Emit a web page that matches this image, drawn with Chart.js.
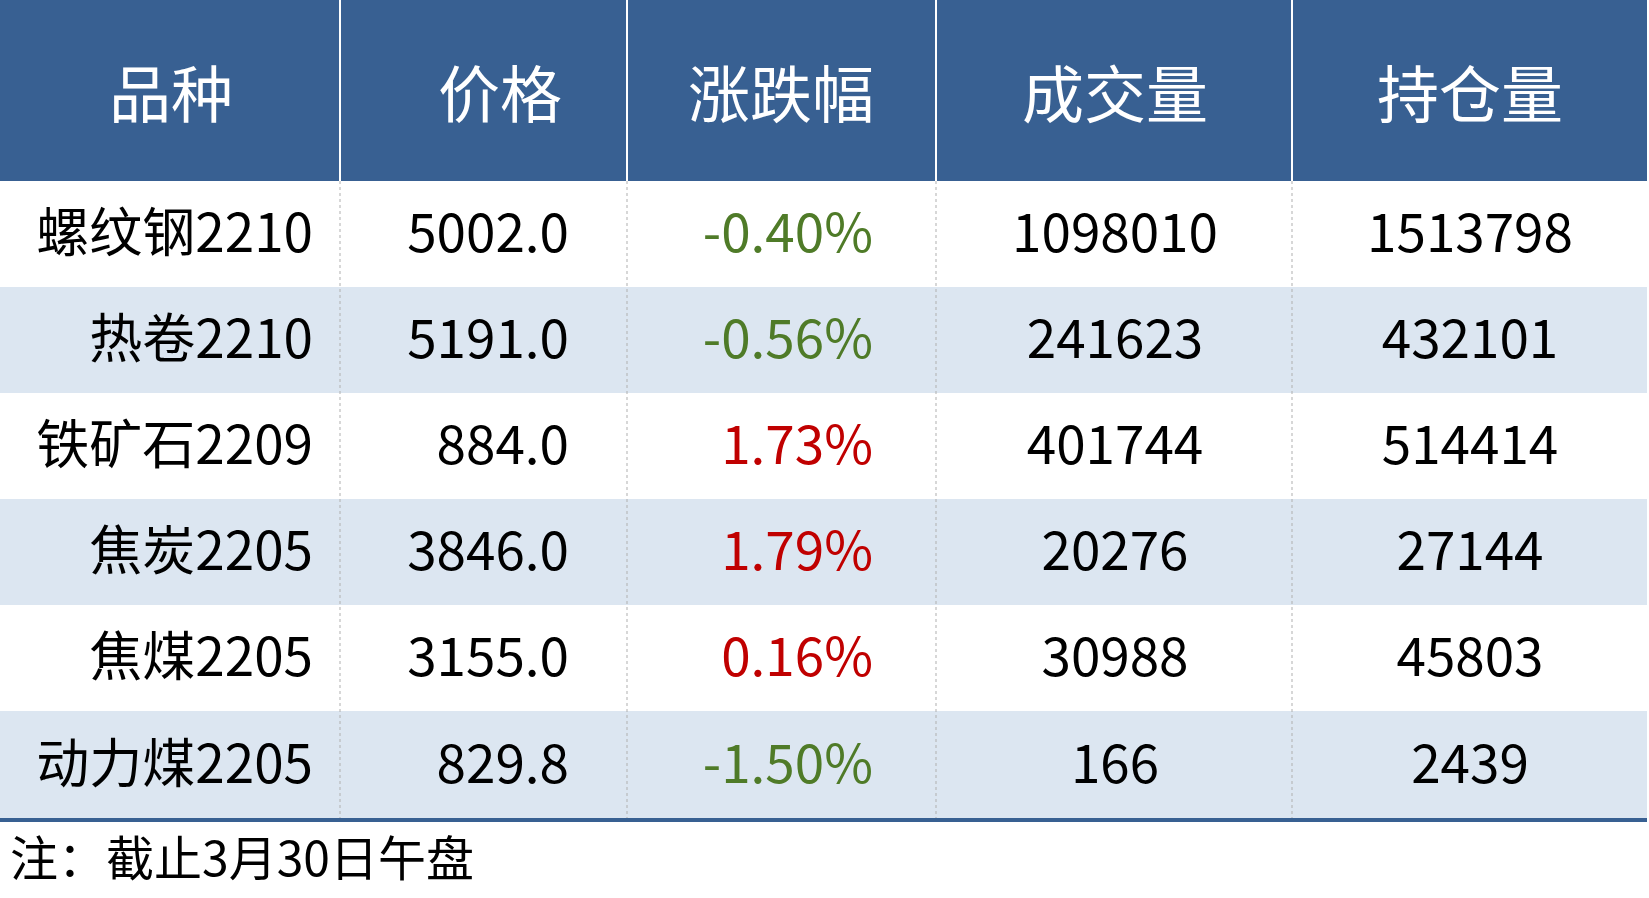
<!DOCTYPE html>
<html>
<head>
<meta charset="utf-8">
<script src="https://cdn.jsdelivr.net/npm/chart.js@4/dist/chart.umd.min.js"></script>
<style>
  body { margin: 0; background: #fff; font-family: "Noto Sans CJK SC", sans-serif; }
  #wrap { position: relative; width: 1649px; height: 826px; }
  #note { position: absolute; left: 10px; top: 824px; font-size: 48px; line-height: 62px; color: #000; }
</style>
</head>
<body>
<div id="wrap"><canvas id="tbl"></canvas></div>
<div id="note">注：截止3月30日午盘</div>
<script>
// 表头与数据
const headers = ['品种', '价格', '涨跌幅', '成交量', '持仓量'];
const varieties = ['螺纹钢2210', '热卷2210', '铁矿石2209', '焦炭2205', '焦煤2205', '动力煤2205'];
const prices = ['5002.0', '5191.0', '884.0', '3846.0', '3155.0', '829.8'];
const changes = [-0.40, -0.56, 1.73, 1.79, 0.16, -1.50];
const volumes = ['1098010', '241623', '401744', '20276', '30988', '166'];
const openInterest = ['1513798', '432101', '514414', '27144', '45803', '2439'];

// 列边界 (x 轴单位) 和行边界 (y 轴单位)
const colEdges = [0, 340, 627, 936, 1292, 1647];
const rowEdges = [0, 181, 287, 393, 499, 605, 711, 818];

const tablePlugin = {
    id: 'table',
    beforeDatasetsDraw(chart) {
        const ctx = chart.ctx;
        const xs = chart.scales.x, ys = chart.scales.y;
        const X = v => xs.getPixelForValue(v);
        const Y = v => ys.getPixelForValue(v);
        ctx.save();
        // 表头背景
        ctx.fillStyle = '#386092';
        ctx.fillRect(X(0), Y(0), X(1647) - X(0), Y(181) - Y(0));
        // 隔行底色
        for (let r = 0; r < varieties.length; r++) {
            if (r % 2 === 1) {
                ctx.fillStyle = '#dce6f1';
                ctx.fillRect(X(0), Y(rowEdges[r + 1]), X(1647) - X(0), Y(rowEdges[r + 2]) - Y(rowEdges[r + 1]));
            }
        }
        // 竖线
        for (let c = 1; c < colEdges.length - 1; c++) {
            ctx.strokeStyle = '#ffffff';
            ctx.lineWidth = 2;
            ctx.setLineDash([]);
            ctx.beginPath(); ctx.moveTo(X(colEdges[c]), Y(0)); ctx.lineTo(X(colEdges[c]), Y(181)); ctx.stroke();
            ctx.strokeStyle = '#b0b0b0';
            ctx.lineWidth = 1;
            ctx.setLineDash([3, 3]);
            ctx.beginPath(); ctx.moveTo(X(colEdges[c]), Y(181)); ctx.lineTo(X(colEdges[c]), Y(818)); ctx.stroke();
        }
        ctx.setLineDash([]);
        // 底线
        ctx.strokeStyle = '#386092';
        ctx.lineWidth = 4;
        ctx.beginPath(); ctx.moveTo(X(0), Y(820)); ctx.lineTo(X(1647), Y(820)); ctx.stroke();

        // 表头文字
        ctx.fillStyle = '#ffffff';
        ctx.font = '62px "Noto Sans CJK SC"';
        ctx.textBaseline = 'middle';
        ctx.textAlign = 'center';
        const headX = [171, 500, 781, 1115, 1470];
        headers.forEach((h, i) => ctx.fillText(h, X(headX[i]), Y(94)));

        // 数据文字
        ctx.font = '53px "Noto Sans CJK SC"';
        for (let r = 0; r < varieties.length; r++) {
            const cy = Y((rowEdges[r + 1] + rowEdges[r + 2]) / 2 - 2);
            ctx.fillStyle = '#000';
            ctx.textAlign = 'right';
            ctx.fillText(varieties[r], X(313), cy);
            ctx.fillText(prices[r], X(569), cy);
            ctx.fillStyle = changes[r] < 0 ? '#4f7b28' : '#c00000';
            ctx.fillText(changes[r].toFixed(2) + '%', X(873), cy);
            ctx.fillStyle = '#000';
            ctx.textAlign = 'center';
            ctx.fillText(volumes[r], X(1115), cy);
            ctx.fillText(openInterest[r], X(1470), cy);
        }
        ctx.restore();
    }
};

new Chart(document.getElementById('tbl'), {
    type: 'scatter',
    data: { datasets: [{ data: [] }] },
    options: {
        responsive: true,
        maintainAspectRatio: false,
        animation: false,
        layout: { padding: 0 },
        plugins: { legend: { display: false }, tooltip: { enabled: false } },
        scales: {
            x: { type: 'linear', min: 0, max: 1649, display: false },
            y: { type: 'linear', min: 0, max: 826, reverse: true, display: false }
        }
    },
    plugins: [tablePlugin]
});
</script>
</body>
</html>
